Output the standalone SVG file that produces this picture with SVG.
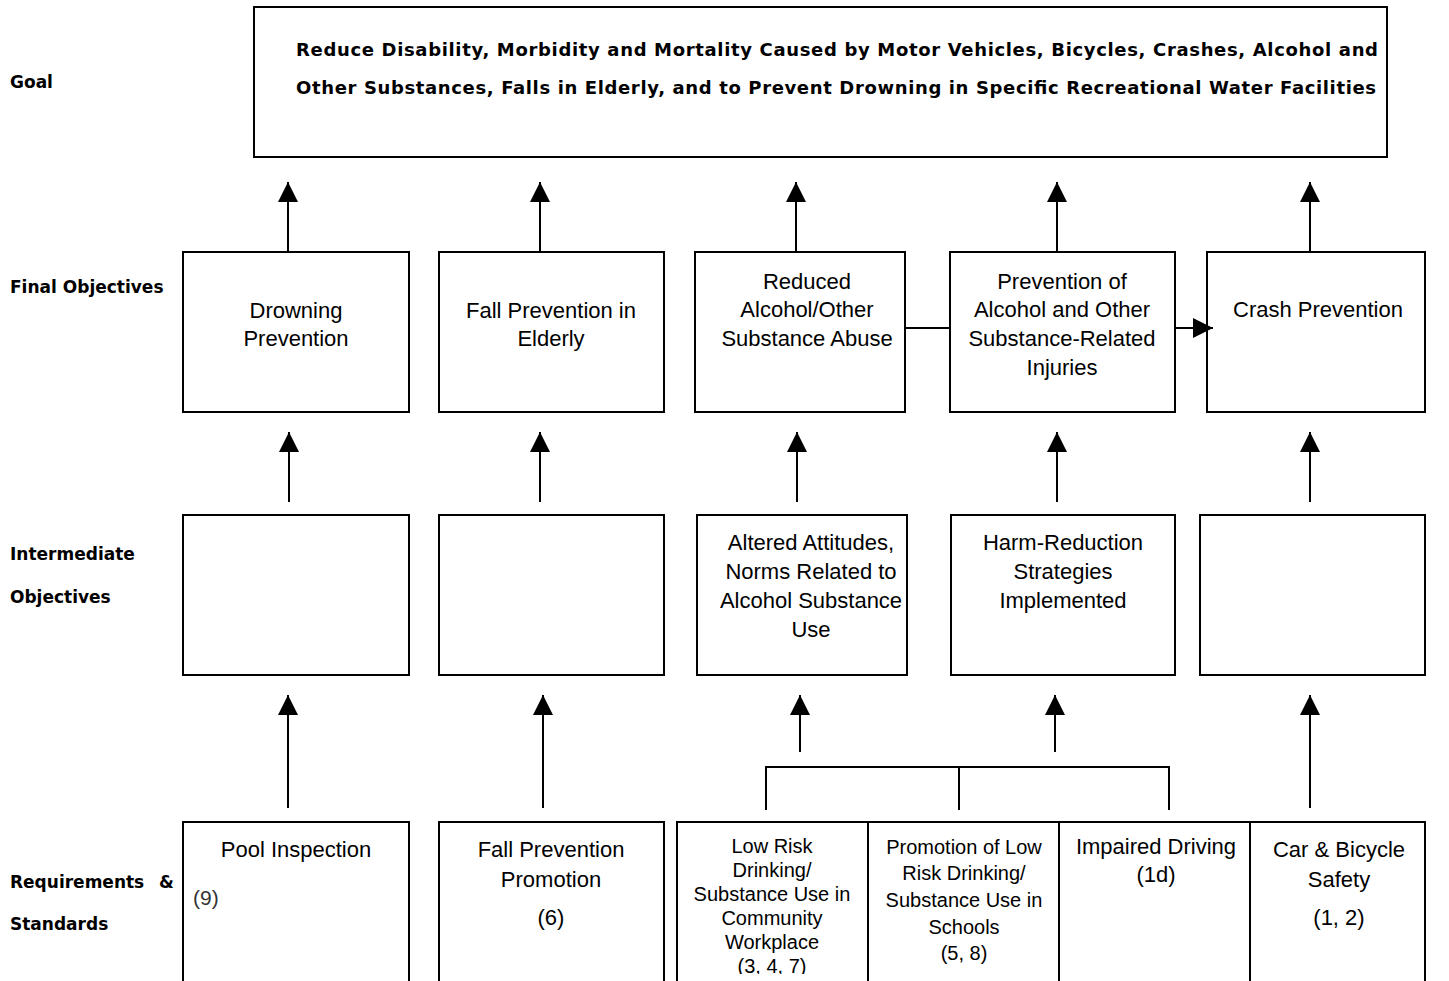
<svg xmlns="http://www.w3.org/2000/svg" width="1449" height="981" viewBox="0 0 1449 981">
  <style>
    .box { fill: #ffffff; stroke: #000000; stroke-width: 2; }
    .label { font-family: "DejaVu Sans", Verdana, sans-serif; font-weight: bold; font-size: 17px; fill: #000000; }
    .goal { font-family: "DejaVu Sans", Verdana, sans-serif; font-weight: bold; font-size: 18px; fill: #000000; }
    .t { font-family: "Liberation Sans", Arial, sans-serif; font-size: 22px; fill: #000000; text-anchor: middle; }
    .s { font-family: "Liberation Sans", Arial, sans-serif; font-size: 20px; fill: #000000; text-anchor: middle; }
    .ref { font-family: "Liberation Sans", Arial, sans-serif; font-size: 21px; fill: #333333; }
    .link { fill: none; stroke: #000000; stroke-width: 2; }
  </style>
  <defs>
    <marker id="head" markerUnits="userSpaceOnUse" markerWidth="20" markerHeight="20" refX="20" refY="10" orient="auto">
      <path d="M0,0 L20,10 L0,20 z" fill="#000000"/>
    </marker>
    <clipPath id="bottom-clip">
      <rect x="0" y="0" width="1449" height="974"/>
    </clipPath>
  </defs>
  <rect width="1449" height="981" fill="#ffffff"/>

  <!-- row labels -->
  <g id="row-labels">
    <text class="label" x="10" y="88">Goal</text>
    <text class="label" x="10" y="293">Final Objectives</text>
    <text class="label" x="10" y="560">Intermediate</text>
    <text class="label" x="10" y="603">Objectives</text>
    <text class="label" x="10" y="888">Requirements<tspan x="159">&amp;</tspan></text>
    <text class="label" x="10" y="930">Standards</text>
  </g>

  <!-- goal -->
  <g id="goal">
    <rect class="box" x="254" y="7" width="1133" height="150"/>
    <text class="goal" x="296" y="56" textLength="1082" lengthAdjust="spacing">Reduce Disability, Morbidity and Mortality Caused by Motor Vehicles, Bicycles, Crashes, Alcohol and</text>
    <text class="goal" x="296" y="94" textLength="1080" lengthAdjust="spacing">Other Substances, Falls in Elderly, and to Prevent Drowning in Specific Recreational Water Facilities</text>
  </g>

  <!-- final objectives -->
  <g id="fo-drowning">
    <rect class="box" x="183" y="252" width="226" height="160"/>
    <text class="t" x="296" y="318">Drowning</text>
    <text class="t" x="296" y="346">Prevention</text>
  </g>
  <g id="fo-falls">
    <rect class="box" x="439" y="252" width="225" height="160"/>
    <text class="t" x="551" y="318">Fall Prevention in</text>
    <text class="t" x="551" y="346">Elderly</text>
  </g>
  <g id="fo-alcohol">
    <rect class="box" x="695" y="252" width="210" height="160"/>
    <text class="t" x="807" y="289">Reduced</text>
    <text class="t" x="807" y="317">Alcohol/Other</text>
    <text class="t" x="807" y="346">Substance Abuse</text>
  </g>
  <g id="fo-injuries">
    <rect class="box" x="950" y="252" width="225" height="160"/>
    <text class="t" x="1062" y="289">Prevention of</text>
    <text class="t" x="1062" y="317">Alcohol and Other</text>
    <text class="t" x="1062" y="346">Substance-Related</text>
    <text class="t" x="1062" y="375">Injuries</text>
  </g>
  <g id="fo-crash">
    <rect class="box" x="1207" y="252" width="218" height="160"/>
    <text class="t" x="1318" y="317">Crash Prevention</text>
  </g>

  <!-- intermediate objectives -->
  <g id="io-drowning">
    <rect class="box" x="183" y="515" width="226" height="160"/>
  </g>
  <g id="io-falls">
    <rect class="box" x="439" y="515" width="225" height="160"/>
  </g>
  <g id="io-attitudes">
    <rect class="box" x="697" y="515" width="210" height="160"/>
    <text class="t" x="811" y="550">Altered Attitudes,</text>
    <text class="t" x="811" y="579">Norms Related to</text>
    <text class="t" x="811" y="608">Alcohol Substance</text>
    <text class="t" x="811" y="637">Use</text>
  </g>
  <g id="io-harm">
    <rect class="box" x="951" y="515" width="224" height="160"/>
    <text class="t" x="1063" y="550">Harm-Reduction</text>
    <text class="t" x="1063" y="579">Strategies</text>
    <text class="t" x="1063" y="608">Implemented</text>
  </g>
  <g id="io-crash">
    <rect class="box" x="1200" y="515" width="225" height="160"/>
  </g>

  <!-- requirements and standards -->
  <g id="rs-pool">
    <rect class="box" x="183" y="822" width="226" height="170"/>
    <text class="t" x="296" y="857">Pool Inspection</text>
    <text class="ref" x="193" y="905">(9)</text>
  </g>
  <g id="rs-fall">
    <rect class="box" x="439" y="822" width="225" height="170"/>
    <text class="t" x="551" y="857">Fall Prevention</text>
    <text class="t" x="551" y="887">Promotion</text>
    <text class="t" x="551" y="925">(6)</text>
  </g>
  <g id="rs-community">
    <rect class="box" x="677" y="822" width="191" height="170"/>
    <g clip-path="url(#bottom-clip)">
      <text class="s" x="772" y="853">Low Risk</text>
      <text class="s" x="772" y="877">Drinking/</text>
      <text class="s" x="772" y="901">Substance Use in</text>
      <text class="s" x="772" y="925">Community</text>
      <text class="s" x="772" y="949">Workplace</text>
      <text class="s" x="772" y="973">(3, 4, 7)</text>
    </g>
  </g>
  <g id="rs-schools">
    <rect class="box" x="868" y="822" width="191" height="170"/>
    <text class="s" x="964" y="854">Promotion of Low</text>
    <text class="s" x="964" y="880">Risk Drinking/</text>
    <text class="s" x="964" y="907">Substance Use in</text>
    <text class="s" x="964" y="934">Schools</text>
    <text class="s" x="964" y="960">(5, 8)</text>
  </g>
  <g id="rs-impaired">
    <rect class="box" x="1059" y="822" width="191" height="170"/>
    <text class="t" x="1156" y="854">Impaired Driving</text>
    <text class="t" x="1156" y="882">(1d)</text>
  </g>
  <g id="rs-car">
    <rect class="box" x="1250" y="822" width="175" height="170"/>
    <text class="t" x="1339" y="857">Car &amp; Bicycle</text>
    <text class="t" x="1339" y="887">Safety</text>
    <text class="t" x="1339" y="925">(1, 2)</text>
  </g>

  <!-- connectors -->
  <g id="connectors">
    <!-- final objectives to goal -->
    <line class="link" x1="288" y1="251" x2="288" y2="182" marker-end="url(#head)"/>
    <line class="link" x1="540" y1="251" x2="540" y2="182" marker-end="url(#head)"/>
    <line class="link" x1="796" y1="251" x2="796" y2="182" marker-end="url(#head)"/>
    <line class="link" x1="1057" y1="251" x2="1057" y2="182" marker-end="url(#head)"/>
    <line class="link" x1="1310" y1="251" x2="1310" y2="182" marker-end="url(#head)"/>
    <!-- intermediate to final objectives -->
    <line class="link" x1="289" y1="502" x2="289" y2="432" marker-end="url(#head)"/>
    <line class="link" x1="540" y1="502" x2="540" y2="432" marker-end="url(#head)"/>
    <line class="link" x1="797" y1="502" x2="797" y2="432" marker-end="url(#head)"/>
    <line class="link" x1="1057" y1="502" x2="1057" y2="432" marker-end="url(#head)"/>
    <line class="link" x1="1310" y1="502" x2="1310" y2="432" marker-end="url(#head)"/>
    <!-- requirements to intermediate -->
    <line class="link" x1="288" y1="808" x2="288" y2="695" marker-end="url(#head)"/>
    <line class="link" x1="543" y1="808" x2="543" y2="695" marker-end="url(#head)"/>
    <line class="link" x1="800" y1="752" x2="800" y2="695" marker-end="url(#head)"/>
    <line class="link" x1="1055" y1="752" x2="1055" y2="695" marker-end="url(#head)"/>
    <line class="link" x1="1310" y1="808" x2="1310" y2="695" marker-end="url(#head)"/>
    <!-- bracket joining the alcohol-related requirements -->
    <path class="link" d="M766,810 V767 H1169 V810 M959,767 V810"/>
    <!-- links between final objectives -->
    <line class="link" x1="905" y1="328" x2="950" y2="328"/>
    <line class="link" x1="1175" y1="328" x2="1213" y2="328" marker-end="url(#head)"/>
  </g>
</svg>
